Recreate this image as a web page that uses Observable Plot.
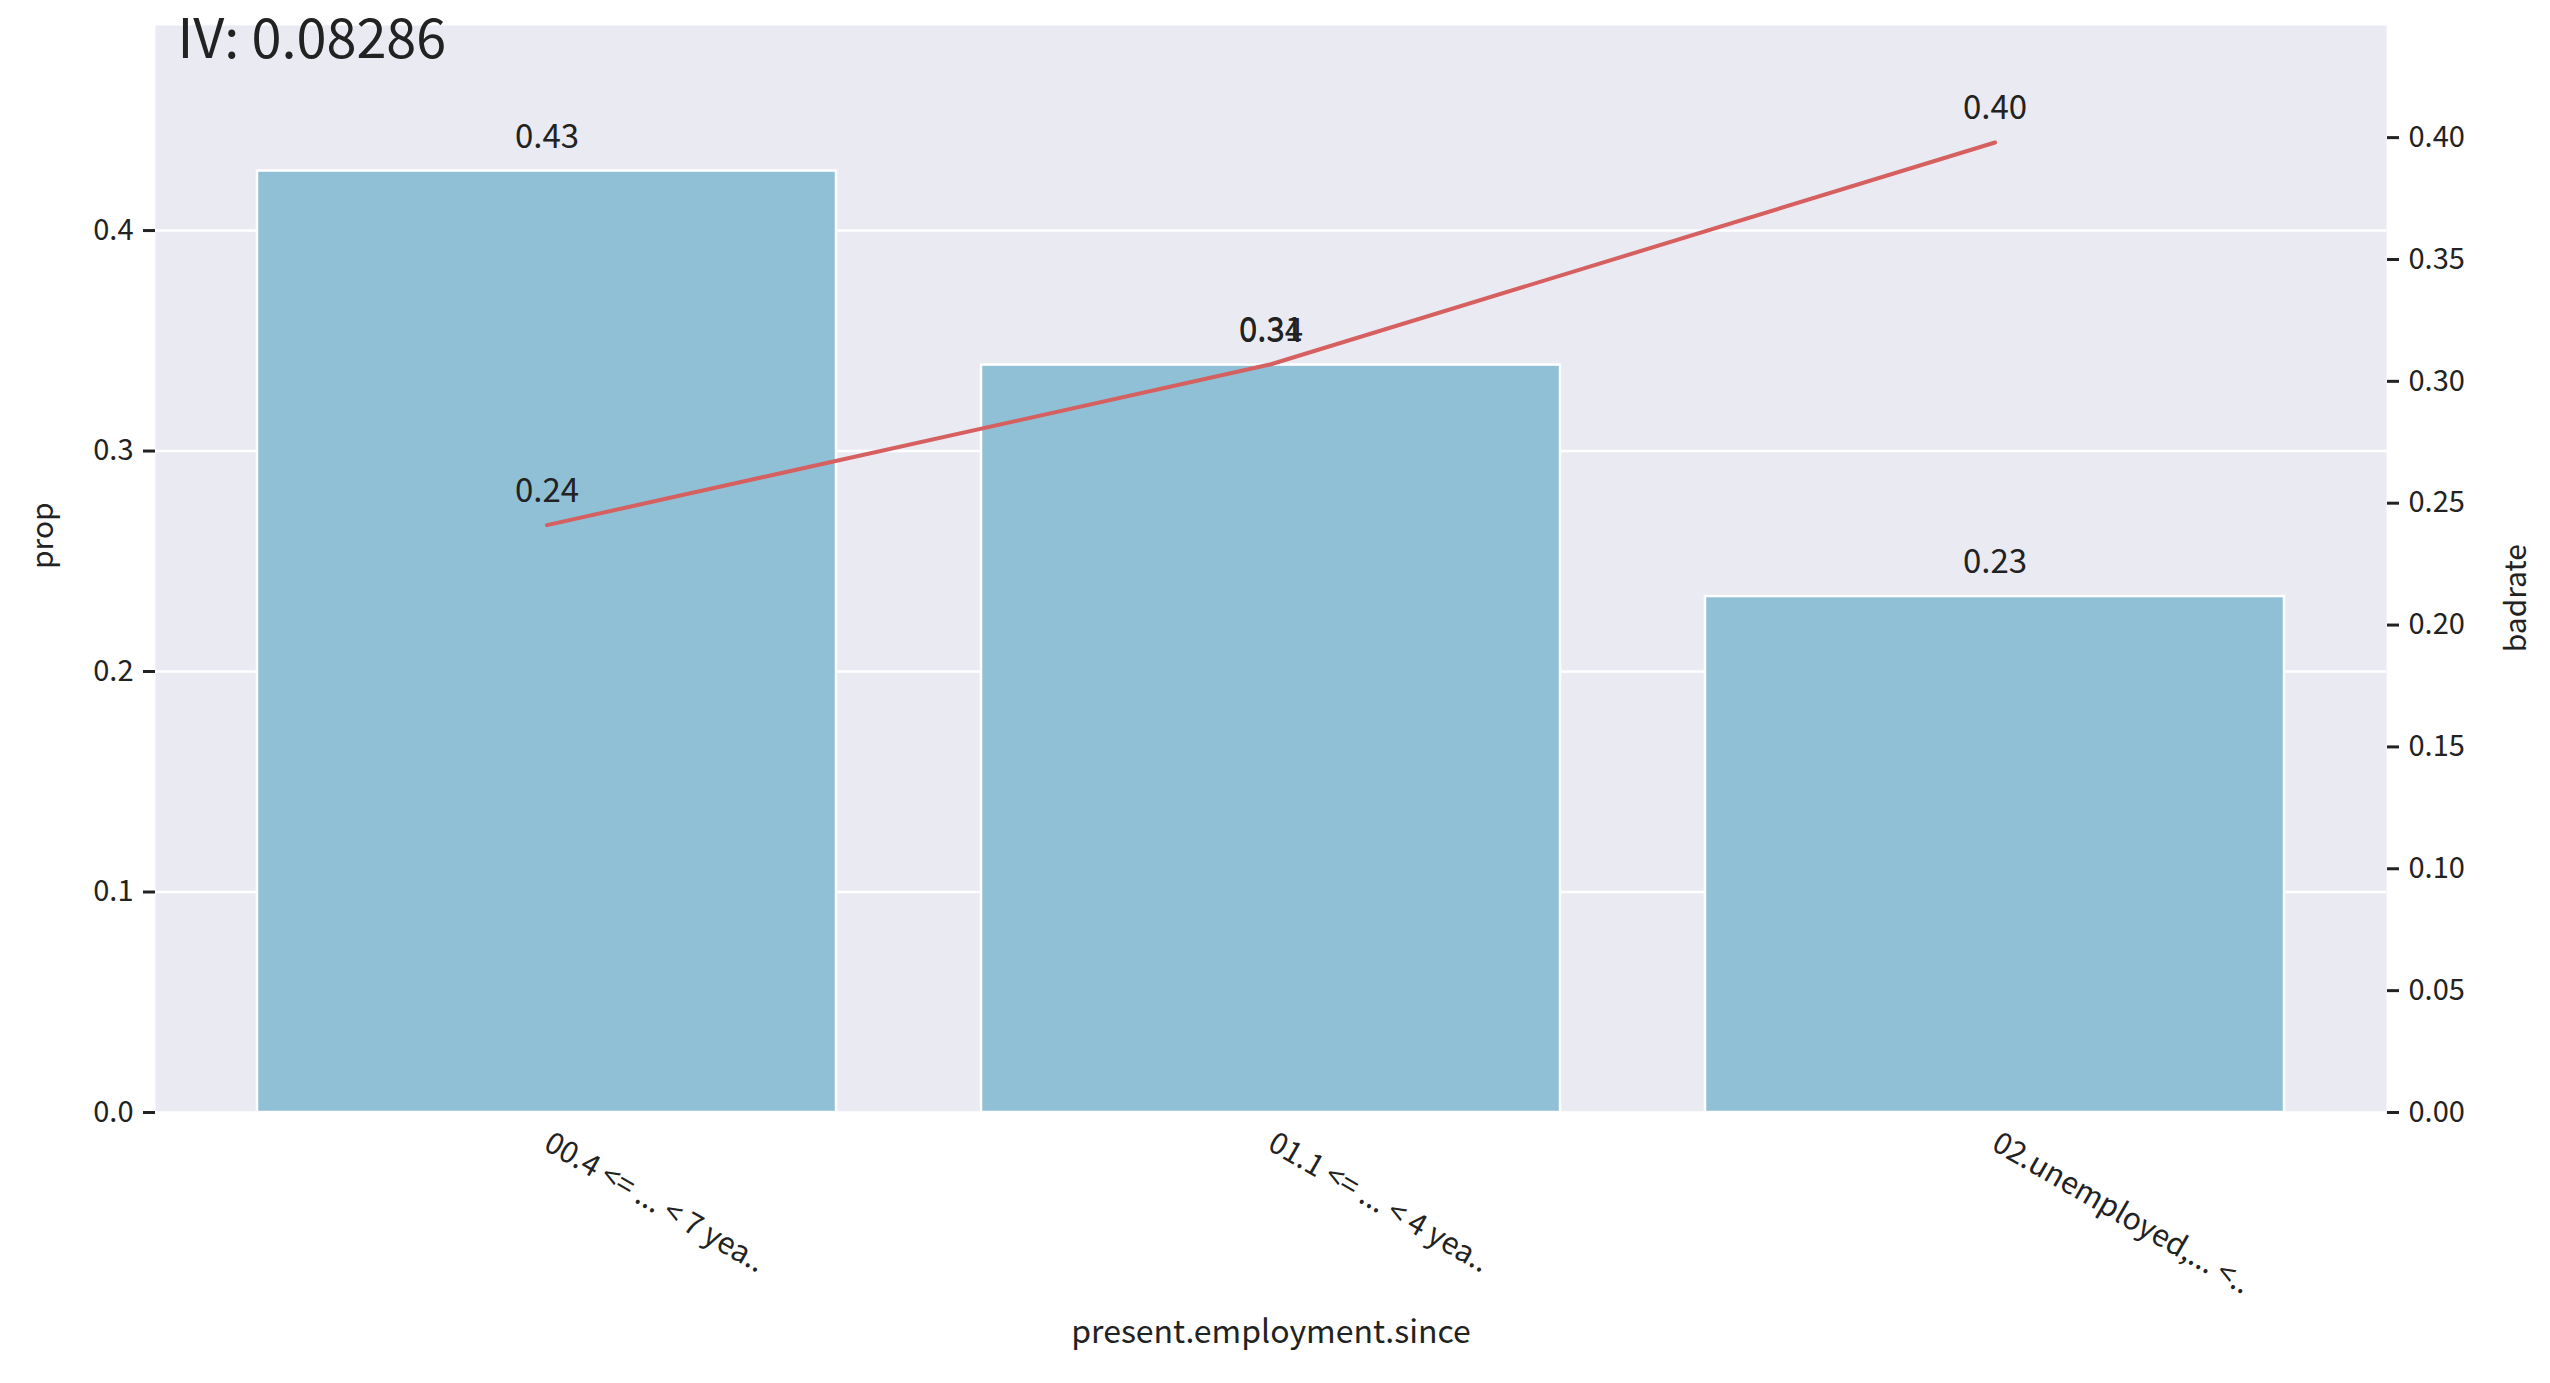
<!DOCTYPE html>
<html><head><meta charset="utf-8">
<script src="https://cdn.jsdelivr.net/npm/d3@7"></script>
<script src="https://cdn.jsdelivr.net/npm/@observablehq/plot@0.6"></script>
<style>body{margin:0;background:#fff}</style>
</head><body><div id="c"></div>
<script>
const categories = ["00.4 <= ... < 7 yea..", "01.1 <= ... < 4 yea..", "02.unemployed,... <.."];
const prop = [0.427, 0.339, 0.234];
const badrate = [0.241, 0.307, 0.398];
const leftTicks = [0, 0.1, 0.2, 0.3, 0.4];
const rightTicks = [0, 0.05, 0.1, 0.15, 0.2, 0.25, 0.3, 0.35, 0.4];
const title = "IV: 0.08286";

const yMax = 0.493, rMax = 0.446, k = yMax / rMax;
const data = categories.map((c, i) => ({c, prop: prop[i], bad: badrate[i], badY: badrate[i] * k}));
const font = "'Noto Sans CJK SC', 'Noto Sans', sans-serif";

const chart = Plot.plot({
  width: 2550, height: 1383,
  marginLeft: 155, marginRight: 164, marginTop: 25, marginBottom: 271,
  style: {fontFamily: font, fontSize: "30px", color: "#222", background: "#fff"},
  x: {domain: categories, paddingInner: 0.2, paddingOuter: 0.14, label: null},
  y: {domain: [0, yMax], label: null},
  marks: [
    Plot.frame({fill: "#EAEAF2", stroke: null}),
    Plot.gridY(leftTicks, {stroke: "#fff", strokeOpacity: 1, strokeWidth: 2.5}),
    Plot.barY(data, {x: "c", y: "prop", fill: "#8fc0d6", stroke: "#fff", strokeWidth: 2.5}),
    Plot.line(data, {x: "c", y: "badY", stroke: "#d65f5f", strokeWidth: 4}),
    Plot.text(data, {x: "c", y: "prop", text: d => d.prop.toFixed(2), dy: -34, fontSize: 33, fill: "#222"}),
    Plot.text(data, {x: "c", y: "badY", text: d => d.bad.toFixed(2), dy: -34, fontSize: 33, fill: "#222"}),
    Plot.axisY(leftTicks, {anchor: "left", tickSize: 12, tickPadding: 10, strokeWidth: 3, strokeOpacity: 1, stroke: "#222", tickFormat: d => d.toFixed(1), label: null, fontSize: 29}),
    Plot.axisY(rightTicks.map(d => d * k), {anchor: "right", tickSize: 12, tickPadding: 10, strokeWidth: 3, strokeOpacity: 1, stroke: "#222", tickFormat: d => (d / k).toFixed(2), label: null, fontSize: 29}),
    Plot.axisX({tickSize: 0, tickRotate: 30, textAnchor: "start", tickPadding: 28, fontSize: 30, label: null}),
    Plot.text([title], {frameAnchor: "top-left", dx: 22, dy: -6, textAnchor: "start", lineAnchor: "top", fontSize: 54, fill: "#222"}),
    Plot.text(["present.employment.since"], {frameAnchor: "bottom", dy: 230, fontSize: 32, fill: "#222"}),
    Plot.text(["prop"], {frameAnchor: "left", dx: -112, rotate: -90, fontSize: 30, fill: "#222"}),
    Plot.text(["badrate"], {frameAnchor: "right", dx: 130, dy: -25, rotate: -90, fontSize: 30, fill: "#222"})
  ]
});
document.getElementById("c").appendChild(chart);
</script></body></html>
